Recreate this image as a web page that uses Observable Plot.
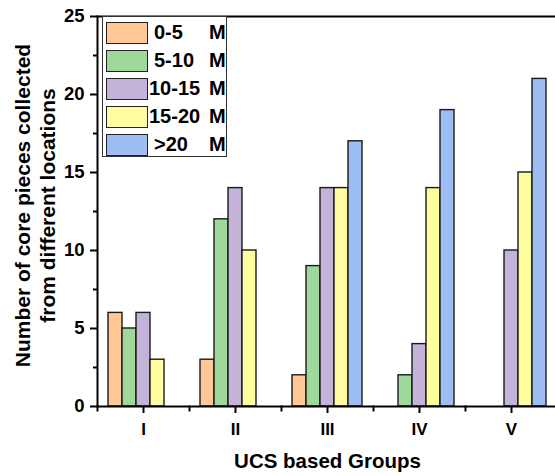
<!DOCTYPE html>
<html><head><meta charset="utf-8">
<script src="https://cdn.jsdelivr.net/npm/d3@7"></script>
<script src="https://cdn.jsdelivr.net/npm/@observablehq/plot@0.6"></script>
<style>
body{margin:0;background:#fff;font-family:Arial,"Liberation Sans",sans-serif;}
#wrap{position:relative;width:555px;height:476px;overflow:hidden;}
#legend{position:absolute;left:102px;top:16px;width:125px;height:141px;border:1px solid #333;background:#fff;box-sizing:border-box;}
.row{position:absolute;left:0;height:22px;width:125px;}
.sw{position:absolute;left:3px;top:0;width:42px;height:22px;box-sizing:border-box;border:1.5px solid #222;}
.lab{position:absolute;top:-1px;font-size:20px;font-weight:bold;line-height:22px;color:#000;white-space:pre;}
.unit{position:absolute;left:106px;top:-1px;font-size:20px;font-weight:bold;line-height:22px;color:#000;}
#xtitle{position:absolute;left:0;width:655px;top:451px;line-height:20.5px;text-align:center;font-size:20.5px;font-weight:bold;color:#000;}
</style></head><body><div id="wrap"></div>
<script>
const groups = ["I", "II", "III", "IV", "V"];
const series = ["0-5", "5-10", "10-15", "15-20", ">20"];
const unit = "M";
const colors = ["#FFC896", "#9ED89B", "#C4B3D8", "#FFFDA0", "#9EBDF2"];
const v0_5   = [6, 3, 2, 0, 0];
const v5_10  = [5, 12, 9, 2, 0];
const v10_15 = [6, 14, 14, 4, 10];
const v15_20 = [3, 10, 14, 14, 15];
const v20p   = [0, 0, 17, 19, 21];
const yTicks = [0, 5, 10, 15, 20, 25];
const yMinor = [2.5, 7.5, 12.5, 17.5, 22.5];
const yTitle = "Number of core pieces collected\nfrom different locations";
const xTitle = "UCS based Groups";

const seriesValues = [v0_5, v5_10, v10_15, v15_20, v20p];
const data = groups.flatMap((g, i) => series.map((s, j) => ({group: g, series: s, value: seriesValues[j][i]})))
  .filter(d => d.value > 0);

const font = "Arial, 'Liberation Sans', sans-serif";
const chart = Plot.plot({
  width: 555, height: 476,
  marginLeft: 97, marginRight: -2.5, marginTop: 16, marginBottom: 70,
  style: {fontFamily: font, background: "white", color: "black", overflow: "visible"},
  fx: {domain: groups, padding: 0},
  x: {domain: series, paddingInner: 0, paddingOuter: 0.63, axis: null},
  y: {domain: [0, 25]},
  color: {domain: series, range: colors},
  marks: [
    Plot.barY(data, {fx: "group", x: "series", y: "value", fill: "series", stroke: "#1a1a1a", strokeWidth: 1.4}),
    Plot.ruleY([0], {stroke: "black", strokeWidth: 2}),
    Plot.ruleY([25], {stroke: "black", strokeWidth: 2}),
    Plot.frame({anchor: "left", facetAnchor: "left", stroke: "black", strokeWidth: 2}),
    Plot.frame({anchor: "left", insetTop: 390, insetBottom: -4, stroke: "black", strokeWidth: 2}),
    Plot.axisY({ticks: yTicks, tickSize: 7, tickPadding: 6, fontSize: 18.5, fontWeight: "bold", label: null, strokeWidth: 2}),
    Plot.axisY({ticks: yMinor, tickSize: 4, tickFormat: () => "", label: null, strokeWidth: 2}),
    Plot.axisFx({anchor: "bottom", tickSize: 7, tickPadding: 9, fontSize: 17, fontWeight: "bold", label: null, strokeWidth: 2}),
    Plot.text([yTitle], {frameAnchor: "left", facetAnchor: "left", textAnchor: "middle", lineAnchor: "middle", rotate: -90, dx: -63, dy: -6, lineHeight: 1.19, fontSize: 21, fontWeight: "bold", fill: "black", text: d => d})
  ]
});
const wrap = document.getElementById("wrap");
wrap.appendChild(chart);

const legend = document.createElement("div");
legend.id = "legend";
series.forEach((s, i) => {
  const row = document.createElement("div");
  row.className = "row";
  row.style.top = (5 + i * 28) + "px";
  const sw = document.createElement("div");
  sw.className = "sw";
  sw.style.background = colors[i];
  const lab = document.createElement("div");
  lab.className = "lab";
  lab.textContent = s;
  lab.style.left = (s.length > 4 ? 46 : 51) + "px";
  const u = document.createElement("div");
  u.className = "unit";
  u.textContent = unit;
  row.append(sw, lab, u);
  legend.appendChild(row);
});
wrap.appendChild(legend);

const xt = document.createElement("div");
xt.id = "xtitle";
xt.textContent = xTitle;
wrap.appendChild(xt);
</script>
</body></html>
